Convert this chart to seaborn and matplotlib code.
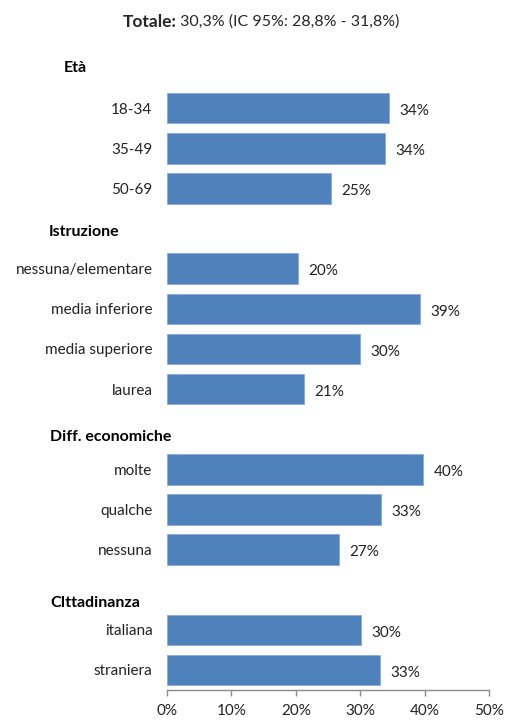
import matplotlib
matplotlib.use("Agg")
import matplotlib.pyplot as plt
import matplotlib.transforms as mtrans
import seaborn as sns
import pandas as pd
import numpy as np

# ---- data ----
title_bold = "Totale:"
title_rest = " 30,3% (IC 95%: 28,8% - 31,8%)"

groups = ["Età", "Istruzione", "Diff. economiche", "CIttadinanza"]
eta_labels = ["18-34", "35-49", "50-69"]
eta_values = [34.4, 33.9, 25.4]
istr_labels = ["nessuna/elementare", "media inferiore", "media superiore", "laurea"]
istr_values = [20.4, 39.3, 30.0, 21.3]
diff_labels = ["molte", "qualche", "nessuna"]
diff_values = [39.8, 33.2, 26.7]
citt_labels = ["italiana", "straniera"]
citt_values = [30.1, 33.1]
xticks = [0, 10, 20, 30, 40, 50]

sections = [
    (groups[0], eta_labels, eta_values),
    (groups[1], istr_labels, istr_values),
    (groups[2], diff_labels, diff_values),
    (groups[3], citt_labels, citt_values),
]

rows = []
order = []
kinds = []
for g, labs, vals in sections:
    order.append("__" + g)
    kinds.append(("head", g))
    for l, v in zip(labs, vals):
        key = g + "|" + l
        order.append(key)
        kinds.append(("row", l))
        rows.append({"key": key, "value": v})
df = pd.DataFrame(rows)

sns.set_theme(style="white")
plt.rcParams["font.family"] = ["Lato", "DejaVu Sans"]

fig = plt.figure(figsize=(5.07, 7.2), dpi=100)
ax = fig.add_axes([167 / 507, 1 - 690 / 720, (489 - 167) / 507, (690 - 48) / 720])

sns.barplot(data=df, x="value", y="key", order=order, color="#4F81BD",
            width=0.76, edgecolor="#8DAAD6", linewidth=0.6, saturation=1, ax=ax)

ax.set_xlim(0, 50)
ax.set_ylim(len(order) - 0.5, -0.5)
ax.set_xticks(xticks)
ax.set_xticklabels([f"{t}%" for t in xticks], fontsize=11, color="#222222")
ax.set_yticks(range(len(order)))
ax.set_yticklabels([k[1] if k[0] == "row" else "" for k in kinds],
                   fontsize=11, color="#222222")
ax.tick_params(axis="y", length=0, pad=10.5)
ax.tick_params(axis="x", length=4, width=1, color="#8c8c8c", direction="out",
               pad=6, bottom=True)
ax.set_xlabel("")
ax.set_ylabel("")
for s in ["top", "right", "left"]:
    ax.spines[s].set_visible(False)
ax.spines["bottom"].set_color("#8c8c8c")
ax.spines["bottom"].set_linewidth(1)

# value labels
for c in ax.containers:
    labs = [f"{v:.0f}%" if not np.isnan(v) else "" for v in c.datavalues]
    anns = ax.bar_label(c, labels=labs, padding=7.5, fontsize=11, color="#222222")
    for a in anns:
        a.xyann = (7.5, -2)

# section headings
head_x = {"Età": 64, "Istruzione": 49, "Diff. economiche": 50, "CIttadinanza": 50}
head_dy = {"Età": 0, "Istruzione": 3, "Diff. economiche": 8, "CIttadinanza": 13}
for i, (kind, name) in enumerate(kinds):
    if kind == "head":
        tr = mtrans.blended_transform_factory(fig.transFigure, ax.transData)
        off = mtrans.offset_copy(tr, fig=fig, x=0, y=-head_dy[name], units="dots")
        ax.text(head_x[name] / 507, i, name, transform=off, ha="left",
                va="center", fontsize=11.5, fontweight="bold", color="black")

# title
t1 = fig.text(0.5, 1 - 22 / 720, title_bold, fontsize=12.5, fontweight="bold",
              ha="left", va="center")
t2 = fig.text(0.5, 1 - 22 / 720, title_rest, fontsize=11.5, ha="left", va="center")
fig.canvas.draw()
r = fig.canvas.get_renderer()
w1 = t1.get_window_extent(r).width
w2 = t2.get_window_extent(r).width
total = w1 + w2
start = 261 - total / 2
t1.set_x(start / 507)
t2.set_x((start + w1) / 507)

fig.savefig("out.png", dpi=100)
